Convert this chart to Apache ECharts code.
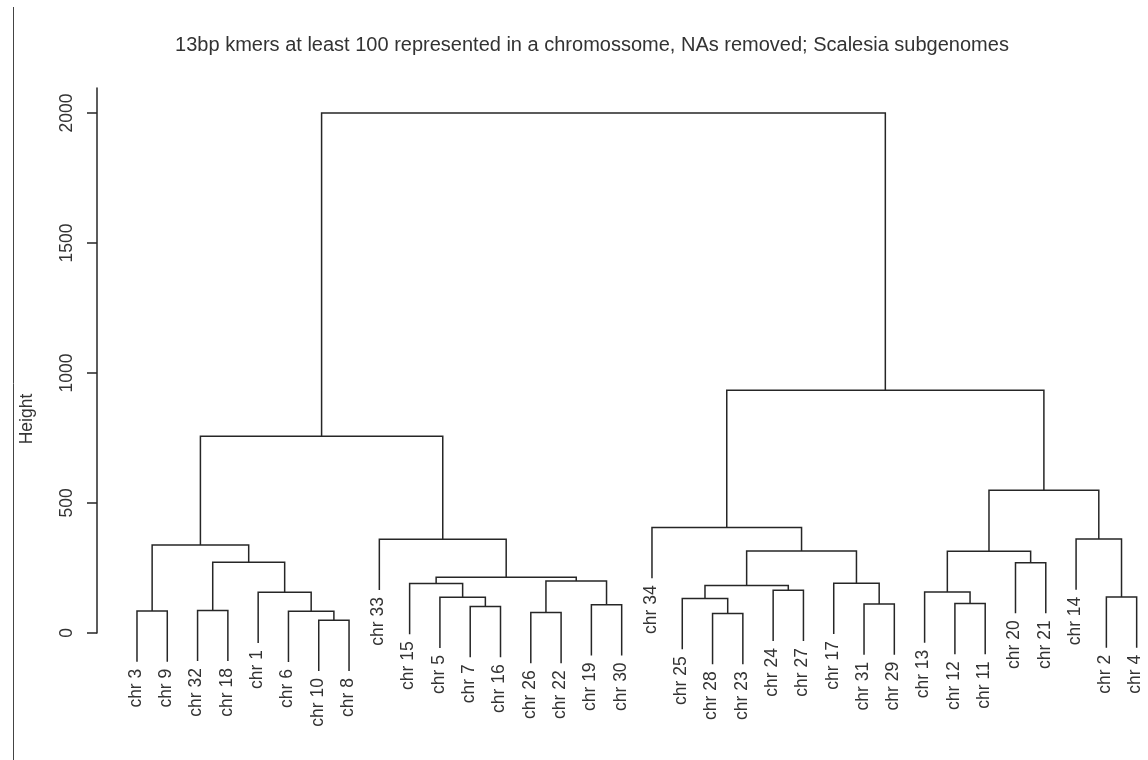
<!DOCTYPE html>
<html>
<head>
<meta charset="utf-8">
<script src="https://cdn.jsdelivr.net/npm/echarts@6/dist/echarts.min.js"></script>
<style>
html,body{margin:0;padding:0;background:#fff;}
#chart{width:1148px;height:760px;}
</style>
</head>
<body>
<div id="chart"></div>
<script>
// ---- Data ----
const titleText = '13bp kmers at least 100 represented in a chromossome, NAs removed; Scalesia subgenomes';
const yAxisTitle = 'Height';
const yTicks = [0, 500, 1000, 1500, 2000];

// leaves in dendrogram order (left to right)
const leafOrder = ['chr 3','chr 9','chr 32','chr 18','chr 1','chr 6','chr 10','chr 8',
  'chr 33','chr 15','chr 5','chr 7','chr 16','chr 26','chr 22','chr 19','chr 30',
  'chr 34','chr 25','chr 28','chr 23','chr 24','chr 27','chr 17','chr 31','chr 29',
  'chr 13','chr 12','chr 11','chr 20','chr 21','chr 14','chr 2','chr 4'];

// merges: string = leaf, number = earlier merge (1-based)
const mergeLeft  = ['chr 10','chr 28','chr 26','chr 6','chr 3','chr 32','chr 7','chr 19','chr 31','chr 12',
  'chr 25','chr 5','chr 2','chr 1','chr 13','chr 24',11,'chr 15','chr 17',3,
  18,'chr 20',6,15,17,5,'chr 33','chr 14','chr 34',24,26,29,31];
const mergeRight = ['chr 8','chr 23','chr 22',1,'chr 9','chr 18','chr 16','chr 30','chr 29','chr 11',
  2,7,'chr 4',4,10,'chr 27',16,12,9,8,
  20,'chr 21',14,22,19,23,21,13,25,28,27,30,32];
const mergeHeight = [48.8,74.6,78.4,83.3,84.7,87,101.5,109,111.5,113,
  132.3,137.3,138.5,156.5,157.8,164,182.3,190,191,200,
  214,270.6,272,314,315.4,338.5,360.4,361.7,405.4,548.8,756.5,933.5,2000];

// ---- Build dendrogram segments ----
const hang = 0.1 * (Math.max(...mergeHeight) - Math.min(...mergeHeight));
const leafX = {};
leafOrder.forEach((l, i) => { leafX[l] = i + 1; });
const nodeX = [], nodeH = [];
const segData = [], leafData = [];
for (let i = 0; i < mergeHeight.length; i++) {
  const h = mergeHeight[i];
  const kids = [mergeLeft[i], mergeRight[i]].map(c => {
    if (typeof c === 'string') {
      const x = leafX[c];
      leafData.push([x, h - hang, c]);
      return [x, h - hang];
    }
    return [nodeX[c - 1], nodeH[c - 1]];
  });
  nodeX.push((kids[0][0] + kids[1][0]) / 2);
  nodeH.push(h);
  segData.push([kids[0][0], kids[1][0], kids[0][1], kids[1][1], h]);
}

const INK = '#262626';
const TXT = '#333';
const FONT = 'Liberation Sans, Arial, Helvetica, sans-serif';

const chart = echarts.init(document.getElementById('chart'));
chart.setOption({
  backgroundColor: '#fff',
  animation: false,
  title: {
    text: titleText,
    left: 592, top: 35, textAlign: 'center', padding: 0,
    textStyle: { fontFamily: FONT, fontSize: 20, fontWeight: 'normal', color: TXT }
  },
  grid: { left: 97, right: 8, top: 88, bottom: 127, containLabel: false, outerBoundsMode: 'none' },
  xAxis: { type: 'value', min: -0.32, max: 34.11, show: false },
  yAxis: {
    type: 'value', min: 0, max: 2096,
    axisLine: { show: true, onZero: false, lineStyle: { color: INK, width: 1.5 } },
    axisTick: { show: true, length: 10, customValues: yTicks, lineStyle: { color: INK, width: 1.5 } },
    axisLabel: { customValues: yTicks, rotate: 90, margin: 21, fontSize: 17.5, fontFamily: FONT, color: TXT,
                 formatter: v => String(v) },
    splitLine: { show: false }
  },
  graphic: [
    { type: 'line', shape: { x1: 13.5, y1: 7, x2: 13.5, y2: 760 }, style: { stroke: '#444', lineWidth: 1 } },
    { type: 'text', x: 27, y: 419, rotation: Math.PI / 2,
      style: { text: yAxisTitle, fill: TXT, font: '17.5px ' + FONT, align: 'center', verticalAlign: 'middle' } }
  ],
  series: [
    {
      type: 'custom', clip: false, silent: true,
      data: segData,
      encode: { x: [0, 1], y: [2, 3, 4] },
      renderItem: (params, api) => {
        const xl = api.value(0), xr = api.value(1), yl = api.value(2), yr = api.value(3), h = api.value(4);
        return {
          type: 'polyline',
          shape: { points: [api.coord([xl, yl]), api.coord([xl, h]), api.coord([xr, h]), api.coord([xr, yr])] },
          style: { stroke: INK, lineWidth: 1.5, fill: 'none' }
        };
      }
    },
    {
      type: 'custom', clip: false, silent: true,
      data: leafData.map(d => [d[0], d[1]]),
      encode: { x: 0, y: 1 },
      renderItem: (params, api) => {
        const p = api.coord([api.value(0), api.value(1)]);
        return {
          type: 'text', x: p[0] - 1, y: p[1] + 7, rotation: Math.PI / 2,
          style: { text: leafData[params.dataIndex][2], fill: TXT, font: '17.5px ' + FONT,
                   align: 'right', verticalAlign: 'middle' }
        };
      }
    }
  ]
});
</script>
</body>
</html>
